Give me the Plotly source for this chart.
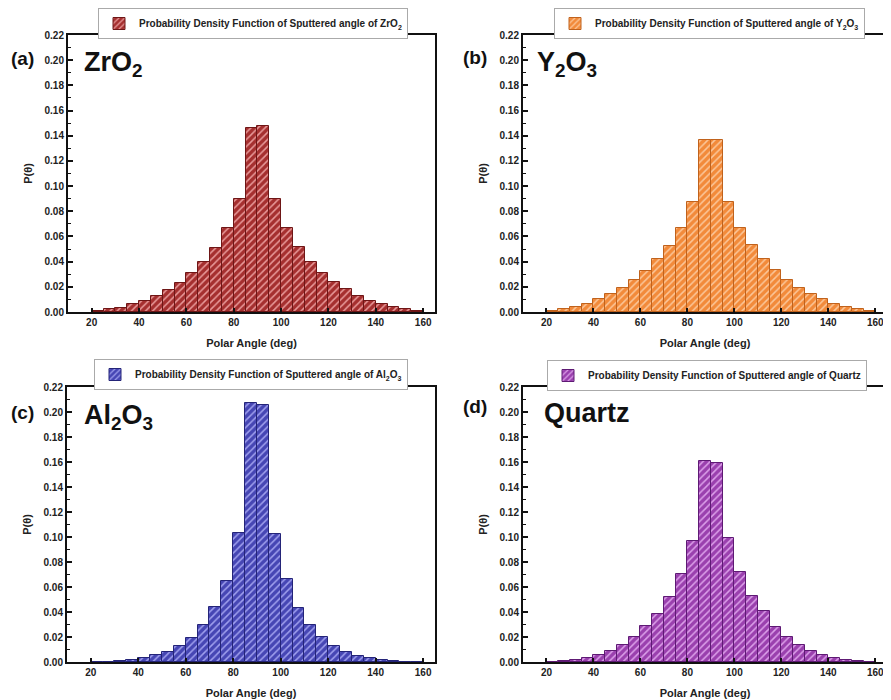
import plotly.graph_objects as go

# ---- data ----
bin_centers = [22.5, 27.5, 32.5, 37.5, 42.5, 47.5, 52.5, 57.5, 62.5, 67.5,
               72.5, 77.5, 82.5, 87.5, 92.5, 97.5, 102.5, 107.5, 112.5, 117.5,
               122.5, 127.5, 132.5, 137.5, 142.5, 147.5, 152.5, 157.5]
bin_width = 5

zro2 = [0.0005, 0.002, 0.0035, 0.006, 0.0085, 0.013, 0.0175, 0.023, 0.031, 0.040,
        0.051, 0.0665, 0.0895, 0.146, 0.148, 0.090, 0.0667, 0.052, 0.040, 0.031,
        0.0236, 0.018, 0.0127, 0.0085, 0.006, 0.004, 0.002, 0.001]
y2o3 = [0.001, 0.002, 0.004, 0.0064, 0.010, 0.014, 0.0193, 0.0254, 0.0326, 0.0424,
        0.0525, 0.0668, 0.0875, 0.1365, 0.1365, 0.087, 0.0668, 0.053, 0.0424, 0.033,
        0.0257, 0.0193, 0.014, 0.010, 0.0066, 0.004, 0.0024, 0.001]
al2o3 = [0, 0, 0.0008, 0.0016, 0.0032, 0.0056, 0.008, 0.013, 0.0192, 0.0299,
         0.0437, 0.0645, 0.1035, 0.2075, 0.206, 0.1027, 0.0664, 0.0435, 0.0299, 0.0203,
         0.013, 0.008, 0.0048, 0.0032, 0.0016, 0.0008, 0, 0]
quartz = [0, 0.0008, 0.0016, 0.0032, 0.0053, 0.0090, 0.0138, 0.0197, 0.0285, 0.0386,
          0.0524, 0.0705, 0.0968, 0.161, 0.1596, 0.0992, 0.0723, 0.0529, 0.0407, 0.0279,
          0.0197, 0.0138, 0.0085, 0.0053, 0.0032, 0.0016, 0.0008, 0]

materials = ["ZrO<sub>2</sub>", "Y<sub>2</sub>O<sub>3</sub>", "Al<sub>2</sub>O<sub>3</sub>", "Quartz"]
legend_names = ["ZrO<sub>2</sub>", "Y<sub>2</sub>O<sub>3</sub>", "Al<sub>2</sub>O<sub>3</sub>", "Quartz"]
panel_letters = ["(a)", "(b)", "(c)", "(d)"]
series = [zro2, y2o3, al2o3, quartz]

x_ticks = [20, 40, 60, 80, 100, 120, 140, 160]
y_ticks = [0.00, 0.02, 0.04, 0.06, 0.08, 0.10, 0.12, 0.14, 0.16, 0.18, 0.20, 0.22]

# ---- styles ----
W, H = 891, 700
OFF = 8  # page body margin of the html page
bg_colors = ["#a52f2f", "#f28a3a", "#4646b4", "#9a40ae"]
fg_colors = ["#e89a9a", "#fbc79a", "#a0a0ee", "#dca0ea"]
edge_colors = ["#6e1616", "#c0621c", "#242478", "#5e1a74"]

# positions in window pixels: (left, right, top, bottom)
areas = [(68, 435, 35, 312), (523, 887, 35, 312),
         (67, 435, 387, 662), (523, 887, 387, 662)]
legend_pos = [(98, 8), (554, 8), (94, 359), (547, 360)]
letter_pos = [(9, 59), (461, 58), (9, 412), (461, 407)]
mat_pos = [(82, 64), (535, 64), (82, 417), (542, 413)]


def px(x):
    return (x - OFF) / W


def py(y):
    return 1 - (y - OFF) / H


fig = go.Figure()
tick_font = dict(family="Liberation Sans", size=10, color="#222")
title_font = dict(family="Liberation Sans", size=11, color="#222")

for i in range(4):
    sfx = "" if i == 0 else str(i + 1)
    lname = "legend" + sfx
    fig.add_trace(go.Bar(
        x=bin_centers, y=series[i], width=bin_width,
        name="<b>Probability Density Function of Sputtered angle of " + legend_names[i] + "</b>",
        marker=dict(color=bg_colors[i],
                    line=dict(color=edge_colors[i], width=1),
                    pattern=dict(shape="/", fgcolor=fg_colors[i], bgcolor=bg_colors[i],
                                 size=5, solidity=0.3, fillmode="replace")),
        xaxis="x" + sfx, yaxis="y" + sfx, legend=lname, showlegend=True,
    ))
    l, r, t, b = areas[i]
    fig.layout["xaxis" + sfx] = dict(
        domain=[px(l), px(r)], anchor="y" + sfx, range=[10, 165],
        tickvals=x_ticks, ticktext=["<b>%d</b>" % v for v in x_ticks],
        ticks="inside", ticklen=4, tickwidth=1.5, tickcolor="#111",
        showline=True, linewidth=2, linecolor="#111", mirror=True,
        showgrid=False, zeroline=False, tickfont=tick_font,
        title=dict(text="<b>Polar Angle (deg)</b>", font=title_font, standoff=12),
    )
    fig.layout["yaxis" + sfx] = dict(
        domain=[py(b), py(t)], anchor="x" + sfx, range=[0, 0.22],
        tickvals=y_ticks, ticktext=["<b>%.2f</b>" % v for v in y_ticks],
        ticks="inside", ticklen=5, tickwidth=1.5, tickcolor="#111",
        minor=dict(ticks="inside", ticklen=3, tickwidth=1, tickcolor="#111", dtick=0.01, showgrid=False),
        showline=True, linewidth=2, linecolor="#111", mirror=True,
        showgrid=False, zeroline=False, tickfont=tick_font,
        title=dict(text="<b>P(θ)</b>", font=title_font, standoff=10),
    )
    lx, ly = legend_pos[i]
    fig.layout[lname] = dict(
        x=px(lx), y=py(ly), xanchor="left", yanchor="top",
        bgcolor="white", bordercolor="#aaaaaa", borderwidth=1,
        font=dict(family="Liberation Sans", size=10, color="#222"),
        itemwidth=30, tracegroupgap=0, itemclick=False,
    )
    ax, ay = letter_pos[i]
    fig.add_annotation(x=px(ax), y=py(ay), xref="paper", yref="paper",
                       text="<b>" + panel_letters[i] + "</b>", showarrow=False,
                       xanchor="left", yanchor="middle",
                       font=dict(family="Liberation Sans", size=19, color="#111"))
    mx, my = mat_pos[i]
    fig.add_annotation(x=px(mx), y=py(my), xref="paper", yref="paper",
                       text="<b>" + materials[i] + "</b>", showarrow=False,
                       xanchor="left", yanchor="middle",
                       font=dict(family="Liberation Sans", size=27, color="#111"))

fig.update_layout(
    width=W, height=H, margin=dict(l=0, r=0, t=0, b=0, autoexpand=False),
    paper_bgcolor="white", plot_bgcolor="white", bargap=0,
)

fig.write_html("out.html")
